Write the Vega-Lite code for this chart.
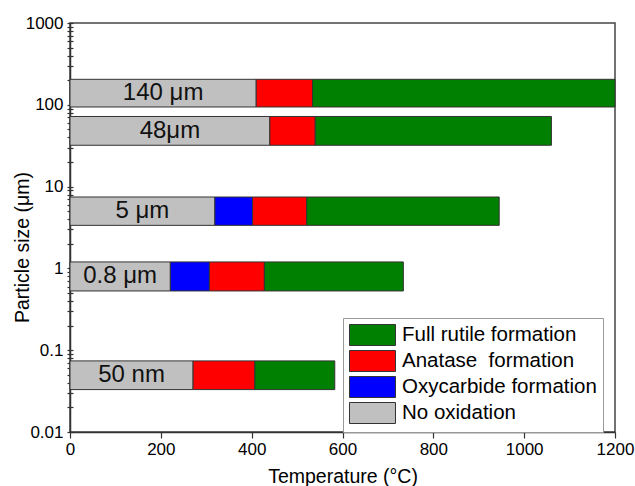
{
  "$schema": "https://vega.github.io/schema/vega-lite/v6.json",
  "autosize": "none",
  "width": 545,
  "height": 409,
  "padding": {"left": 70, "top": 23, "right": 20, "bottom": 54},
  "background": "white",
  "config": {
    "font": "Liberation Sans",
    "view": {"stroke": "#444", "strokeWidth": 1.5},
    "axis": {"domainColor": "#333", "domainWidth": 1.5, "tickColor": "#333", "tickWidth": 1.2, "labelColor": "black", "titleColor": "black", "grid": false, "labelFont": "Liberation Sans", "titleFont": "Liberation Sans", "titleFontWeight": "normal"}
  },
  "data": {
    "values": [
      {"label": "140 μm", "size": 140, "lo": 94, "hi": 205, "phase": "No oxidation", "start": 0, "end": 410},
      {"label": "140 μm", "size": 140, "lo": 94, "hi": 205, "phase": "Anatase  formation", "start": 410, "end": 534},
      {"label": "140 μm", "size": 140, "lo": 94, "hi": 205, "phase": "Full rutile formation", "start": 534, "end": 1200},
      {"label": "48μm", "size": 48, "lo": 32, "hi": 72, "phase": "No oxidation", "start": 0, "end": 440},
      {"label": "48μm", "size": 48, "lo": 32, "hi": 72, "phase": "Anatase  formation", "start": 440, "end": 540},
      {"label": "48μm", "size": 48, "lo": 32, "hi": 72, "phase": "Full rutile formation", "start": 540, "end": 1060},
      {"label": "5 μm", "size": 5, "lo": 3.36, "hi": 7.46, "phase": "No oxidation", "start": 0, "end": 319},
      {"label": "5 μm", "size": 5, "lo": 3.36, "hi": 7.46, "phase": "Oxycarbide formation", "start": 319, "end": 402},
      {"label": "5 μm", "size": 5, "lo": 3.36, "hi": 7.46, "phase": "Anatase  formation", "start": 402, "end": 521},
      {"label": "5 μm", "size": 5, "lo": 3.36, "hi": 7.46, "phase": "Full rutile formation", "start": 521, "end": 945},
      {"label": "0.8 μm", "size": 0.8, "lo": 0.53, "hi": 1.2, "phase": "No oxidation", "start": 0, "end": 221},
      {"label": "0.8 μm", "size": 0.8, "lo": 0.53, "hi": 1.2, "phase": "Oxycarbide formation", "start": 221, "end": 307},
      {"label": "0.8 μm", "size": 0.8, "lo": 0.53, "hi": 1.2, "phase": "Anatase  formation", "start": 307, "end": 428},
      {"label": "0.8 μm", "size": 0.8, "lo": 0.53, "hi": 1.2, "phase": "Full rutile formation", "start": 428, "end": 734},
      {"label": "50 nm", "size": 0.05, "lo": 0.033, "hi": 0.074, "phase": "No oxidation", "start": 0, "end": 271},
      {"label": "50 nm", "size": 0.05, "lo": 0.033, "hi": 0.074, "phase": "Anatase  formation", "start": 271, "end": 407},
      {"label": "50 nm", "size": 0.05, "lo": 0.033, "hi": 0.074, "phase": "Full rutile formation", "start": 407, "end": 583}
    ]
  },
  "resolve": {"axis": {"y": "independent"}},
  "layer": [
    {
      "mark": {"type": "bar", "stroke": "#333", "strokeWidth": 1},
      "encoding": {
        "x": {
          "field": "start", "type": "quantitative",
          "scale": {"domain": [0, 1200], "nice": false, "zero": false},
          "axis": {"values": [0, 200, 400, 600, 800, 1000, 1200], "format": "d", "tickSize": 6, "labelPadding": 3, "labelFontSize": 17, "title": "Temperature (°C)", "titleFontSize": 19.5, "titleY": 50, "titleBaseline": "alphabetic", "labelFlush": false}
        },
        "x2": {"field": "end"},
        "y": {
          "field": "lo", "type": "quantitative",
          "scale": {"type": "log", "domain": [0.01, 1000], "nice": false},
          "axis": {
            "orient": "left",
            "values": [0.01,0.02,0.03,0.04,0.05,0.06,0.07,0.08,0.09,0.1,0.2,0.3,0.4,0.5,0.6,0.7,0.8,0.9,1,2,3,4,5,6,7,8,9,10,20,30,40,50,60,70,80,90,100,200,300,400,500,600,700,800,900,1000],
            "labelExpr": "indexof([0.01,0.1,1,10,100,1000], datum.value) >= 0 ? toString(datum.value) : ''",
            "labelOverlap": false,
            "labelFlush": false,
            "tickSize": 3,
            "labelPadding": 4,
            "labelFontSize": 17,
            "title": "Particle size (μm)",
            "titleFontSize": 19.5,
            "titleAngle": -90,
            "titleAlign": "center",
            "titleBaseline": "middle",
            "titleX": -48,
            "titleY": 224
          }
        },
        "y2": {"field": "hi"},
        "color": {
          "field": "phase", "type": "nominal",
          "scale": {
            "domain": ["Full rutile formation", "Anatase  formation", "Oxycarbide formation", "No oxidation"],
            "range": ["#008000", "#ff0000", "#0000ff", "#c0c0c0"]
          },
          "legend": {
            "title": null,
            "orient": "none",
            "legendX": 273,
            "legendY": 295,
            "symbolType": "M-2.19,-1H2.19V1H-2.19Z",
            "symbolSize": 441,
            "symbolOffset": 12.5,
            "symbolStrokeColor": "#333",
            "symbolStrokeWidth": 1,
            "symbolOpacity": 1,
            "labelFontSize": 20.5,
            "labelFont": "Liberation Sans",
            "labelColor": "black",
            "labelOffset": 18.5,
            "labelLimit": 400,
            "labelExpr": "replace(datum.label, '  ', ' \u00a0')",
            "rowPadding": 0,
            "padding": 6,
            "strokeColor": "#999",
            "fillColor": "white"
          }
        }
      }
    },
    {
      "transform": [
        {"filter": "datum.phase == 'No oxidation'"},
        {"calculate": "(datum.start + datum.end) / 2", "as": "mid"}
      ],
      "mark": {"type": "text", "fontSize": 24, "font": "Liberation Sans", "color": "#111", "baseline": "middle", "align": "center"},
      "encoding": {
        "x": {"field": "mid", "type": "quantitative"},
        "y": {
          "field": "size", "type": "quantitative",
          "scale": {"type": "log", "domain": [0.01, 1000], "nice": false},
          "axis": {
            "orient": "left",
            "values": [0.01,0.02,0.03,0.04,0.05,0.06,0.07,0.08,0.09,0.1,0.2,0.3,0.4,0.5,0.6,0.7,0.8,0.9,1,2,3,4,5,6,7,8,9,10,20,30,40,50,60,70,80,90,100,200,300,400,500,600,700,800,900,1000],
            "labels": false,
            "domain": false,
            "title": null,
            "tickSize": -3
          }
        },
        "text": {"field": "label"}
      }
    }
  ]
}
